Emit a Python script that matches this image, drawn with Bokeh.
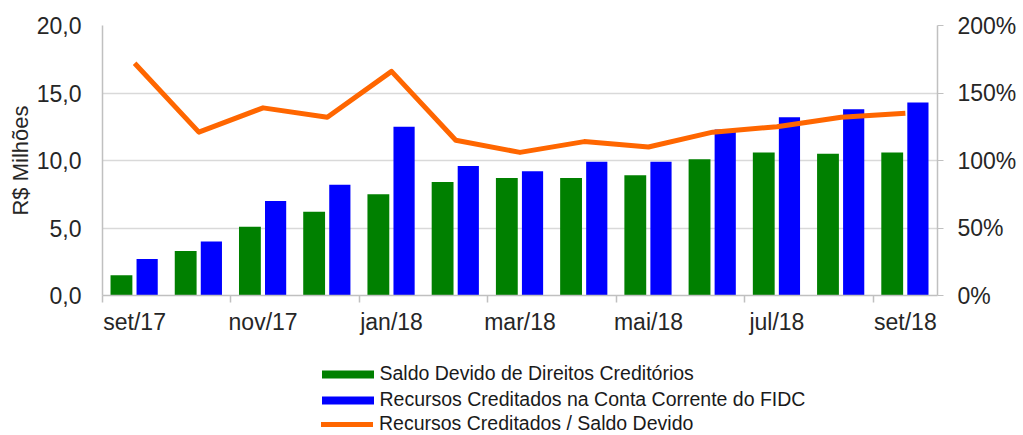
import numpy as np
from bokeh.plotting import figure
from bokeh.layouts import column
from bokeh.models import (Range1d, LinearAxis, FixedTicker, ColumnDataSource,
                          Legend, LegendItem, Grid)
from bokeh.transform import dodge
from bokeh.embed import file_html
from bokeh.resources import INLINE

months = ["set/17", "out/17", "nov/17", "dez/17", "jan/18", "fev/18", "mar/18",
          "abr/18", "mai/18", "jun/18", "jul/18", "ago/18", "set/18"]
saldo = [1.5, 3.3, 5.1, 6.2, 7.5, 8.4, 8.7, 8.7, 8.9, 10.1, 10.6, 10.5, 10.6]
recursos = [2.7, 4.0, 7.0, 8.2, 12.5, 9.6, 9.2, 9.9, 9.9, 12.3, 13.2, 13.8, 14.3]
ratio = [172, 121, 139, 132, 166, 115, 106, 114, 110, 121, 125, 132, 135]

left_ticks = [0, 5, 10, 15, 20]
left_labels = ["0,0", "5,0", "10,0", "15,0", "20,0"]
right_ticks = [0, 50, 100, 150, 200]
right_labels = ["0%", "50%", "100%", "150%", "200%"]

series_names = ["Saldo Devido de Direitos Creditórios",
                "Recursos Creditados na Conta Corrente do FIDC",
                "Recursos Creditados / Saldo Devido"]
colors = ["#008000", "#0000ff", "#ff6600"]

FONT = "Liberation Sans"
TXT = "#262626"
AX = "#c0c0c0"
TICK_FS = "23px"

n = len(months)
xc = np.arange(n) + 0.5
src = ColumnDataSource(dict(x=xc, saldo=saldo, recursos=recursos, ratio=ratio))

p = figure(width=1023, height=337, output_backend="svg", toolbar_location=None,
           x_range=Range1d(0, n), y_range=Range1d(0, 20),
           min_border_left=102, min_border_right=86, min_border_top=25,
           min_border_bottom=40, x_axis_type=None, y_axis_type=None)
p.extra_y_ranges = {"pct": Range1d(0, 200)}
p.outline_line_color = None
p.background_fill_color = "white"

p.add_layout(Grid(dimension=1, ticker=FixedTicker(ticks=left_ticks[1:]),
                  grid_line_color="#d9d9d9", grid_line_width=1.5))

# left axis
yl = LinearAxis(ticker=FixedTicker(ticks=left_ticks),
                major_label_overrides={t: l for t, l in zip(left_ticks, left_labels)},
                axis_label="R$ Milhões")
yl.major_tick_line_color = None
yl.major_tick_out = 0
yl.major_tick_in = 0
yl.minor_tick_line_color = None
yl.axis_line_color = AX
yl.axis_line_width = 1.5
yl.major_label_standoff = 21
yl.major_label_text_font = FONT
yl.major_label_text_font_size = TICK_FS
yl.major_label_text_color = TXT
yl.axis_label_text_font = FONT
yl.axis_label_text_font_size = "22px"
yl.axis_label_text_font_style = "normal"
yl.axis_label_text_color = TXT
yl.axis_label_standoff = 1
p.add_layout(yl, "left")

# right axis
yr = LinearAxis(y_range_name="pct", ticker=FixedTicker(ticks=right_ticks),
                major_label_overrides={t: l for t, l in zip(right_ticks, right_labels)})
yr.major_tick_line_color = AX
yr.major_tick_out = 6
yr.major_tick_in = 0
yr.minor_tick_line_color = None
yr.axis_line_color = AX
yr.axis_line_width = 1.5
yr.major_label_standoff = 14
yr.major_label_text_font = FONT
yr.major_label_text_font_size = TICK_FS
yr.major_label_text_color = TXT
p.add_layout(yr, "right")

# bottom axis
lab_pos = [float(v) for v in xc[::2]]
xa = LinearAxis(ticker=FixedTicker(ticks=lab_pos, minor_ticks=list(range(0, n, 2))),
                major_label_overrides={float(xc[i]): months[i] for i in range(0, n, 2)})
xa.major_tick_line_color = None
xa.major_tick_out = 0
xa.major_tick_in = 0
xa.minor_tick_line_color = AX
xa.minor_tick_line_width = 1.5
xa.minor_tick_out = 7
xa.minor_tick_in = 0
xa.axis_line_color = AX
xa.axis_line_width = 1.5
xa.major_label_standoff = 6
xa.major_label_text_font = FONT
xa.major_label_text_font_size = TICK_FS
xa.major_label_text_color = TXT
p.add_layout(xa, "below")

p.vbar(x=dodge("x", -0.205, range=p.x_range), top="saldo", width=0.34,
       source=src, fill_color=colors[0], line_color=None)
p.vbar(x=dodge("x", 0.195, range=p.x_range), top="recursos", width=0.33,
       source=src, fill_color=colors[1], line_color=None)
p.line("x", "ratio", source=src, y_range_name="pct", line_color=colors[2],
       line_width=5, line_join="round")

# legend panel (separate figure below the chart); its renderers are hidden
q = figure(width=1023, height=98, output_backend="svg", toolbar_location=None,
           x_range=Range1d(0, 1), y_range=Range1d(0, 1),
           min_border=0, x_axis_type=None, y_axis_type=None)
q.outline_line_color = None
lg = q.vbar(x="x", top="saldo", width=0.34, source=src,
            fill_color=colors[0], line_color=None, visible=False)
lb = q.vbar(x="x", top="recursos", width=0.33, source=src,
            fill_color=colors[1], line_color=None, visible=False)
ll = q.line("x", "ratio", source=src, line_color=colors[2], line_width=5,
            line_cap="round", visible=False)


def style(lgd, gw, gh, standoff):
    lgd.border_line_color = None
    lgd.background_fill_alpha = 0
    lgd.inactive_fill_alpha = 0
    lgd.padding = 0
    lgd.margin = 0
    lgd.spacing = 3
    lgd.glyph_width = gw
    lgd.glyph_height = gh
    lgd.label_height = 21
    lgd.label_standoff = standoff
    lgd.label_text_font = FONT
    lgd.label_text_font_size = "19.5px"
    lgd.label_text_color = "#1a1a1a"


legend_bars = Legend(items=[LegendItem(label=series_names[0], renderers=[lg]),
                            LegendItem(label=series_names[1], renderers=[lb])],
                     location=(212.5, 24), orientation="vertical")
style(legend_bars, 65, 10, 0)
legend_line = Legend(items=[LegendItem(label=series_names[2], renderers=[ll])],
                     location=(219, 0), orientation="vertical")
style(legend_line, 52, 10, 6)
q.add_layout(legend_bars, "center")
q.add_layout(legend_line, "center")

layout = column(p, q, spacing=0)
open("out.html", "w").write(file_html(layout, INLINE))
